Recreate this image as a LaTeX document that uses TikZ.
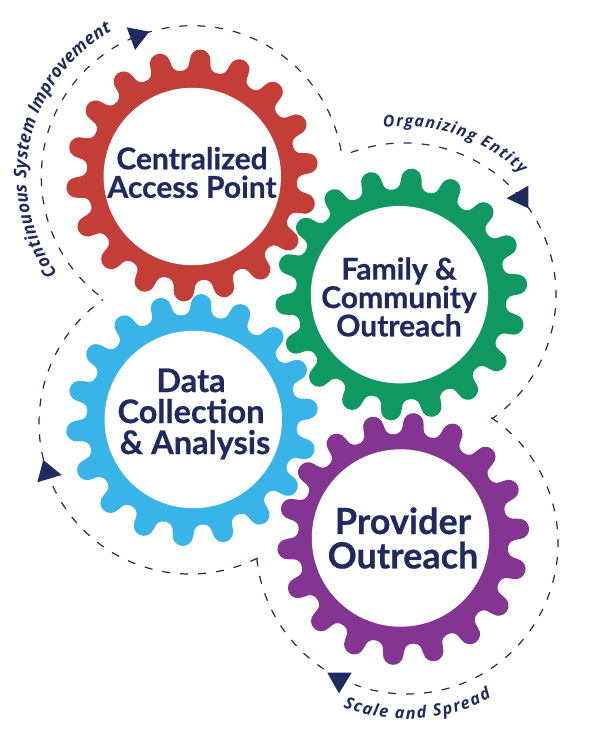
\documentclass[tikz,border=0pt]{standalone}
\usepackage{fontspec}
\setmainfont{Lato}[BoldFeatures={FakeBold=0.6}]
\newfontfamily\labfont{Open Sans}
\usetikzlibrary{decorations.text}
\definecolor{navy}{HTML}{1F2A5E}
\definecolor{gearred}{HTML}{C33E36}
\definecolor{geargreen}{HTML}{0F9960}
\definecolor{gearblue}{HTML}{39B4E8}
\definecolor{gearpurple}{HTML}{843592}
\tikzset{
  hole/.style={circle,fill=white,inner sep=0pt,minimum size=177.4pt},
  flow/.style={navy,line width=1.2pt,dash pattern=on 8pt off 10pt},
  tip/.style={fill=navy},
  gtext/.style={navy,font=\bfseries,align=center,inner sep=0pt},
  curved/.style={decorate,decoration={text along path,text align={fit to path},text={#1}}}
}
% name, gear x, gear y, phase, colour, hole x, hole y
\newcommand{\geargear}[7]{%
  \begin{scope}[shift={(#2,#3)}]
    \fill[#5] (0,0) circle (105);
    \foreach \k in {0,...,17}{
      \fill[#5,rotate=#4+20*\k-90] (-18.2,103.4) .. controls (-14.8,104) and (-11.2,106.5) .. (-10.8,110.5)
        .. controls (-10.6,112.8) and (-10.2,113.5) .. (-10.2,116)
        .. controls (-10.2,121.7) and (-5.6,126.3) .. (0,126.3)
        .. controls (5.6,126.3) and (10.2,121.7) .. (10.2,116)
        .. controls (10.2,113.5) and (10.6,112.8) .. (10.8,110.5)
        .. controls (11.2,106.5) and (14.8,104) .. (18.2,103.4) -- (0,90) -- cycle;
    }
  \end{scope}
  \node[hole] (#1) at (#6,#7) {};
}
\begin{document}
\begin{tikzpicture}[x=1pt,y=1pt]
\useasboundingbox (0,0) rectangle (601,743);
\geargear{red}{192}{567.5}{6}{gearred}{192.3}{566.5}
\geargear{green}{401.3}{448.5}{5}{geargreen}{399.5}{448.3}
\geargear{blue}{192}{323}{5.5}{gearblue}{193.3}{323.5}
\geargear{purple}{403.3}{204}{5}{gearpurple}{400.5}{205}
\node[gtext,font=\bfseries\fontsize{30}{28.5}\selectfont] (redt) at (192,570.5) {Centralized\\Access Point};
\node[gtext,font=\bfseries\fontsize{30}{28.4}\selectfont] (greent) at (399,446) {Family \&\\Community\\Outreach};
\node[gtext,font=\bfseries\fontsize{32.5}{31}\selectfont] (bluet) at (191,329) {Data\\Collection\\\hspace*{8pt}\& Analysis};
\node[gtext,font=\bfseries\fontsize{36}{34.4}\selectfont] (purplet) at (403,205) {Provider\\Outreach};
\coordinate (rc) at (192.3,566.3);
\coordinate (gc) at (404,448);
\coordinate (bc) at (190,320);
\coordinate (pc) at (407,200);
\draw[flow] ([shift={(231.5:151)}]rc) arc[start angle=231.5,end angle=7.6,radius=151];
\draw[flow] ([shift={(110.5:152)}]gc) arc[start angle=110.5,end angle=-54.5,radius=152];
\draw[flow] ([shift={(296.6:151)}]bc) arc[start angle=296.6,end angle=125.2,radius=151];
\draw[flow] ([shift={(56.1:151)}]pc) arc[start angle=56.1,end angle=-110.3,radius=151];
\draw[flow] ([shift={(185.8:151)}]pc) arc[start angle=185.8,end angle=238,radius=151];
\fill[tip] (126.7,715.7) -- (149.3,711.3) -- (135,693) -- cycle;
\fill[tip] (528.3,557.3) -- (528.3,534.7) -- (506.7,544.7) -- cycle;
\fill[tip] (43.3,283) -- (61.7,268) -- (37.3,260.7) -- cycle;
\fill[tip] (327.3,70.3) -- (351.7,70.3) -- (339,49.7) -- cycle;
\path[curved={|\labfont\bfseries\itshape\fontsize{17.5}{17.5}\selectfont\color{navy}|Continuous System Improvement}] ([shift={(215.6:166)}]rc) arc[start angle=215.6,end angle=118.9,radius=166];
\path[curved={|\labfont\bfseries\itshape\fontsize{16}{16}\selectfont\color{navy}|Organizing Entity}] ([shift={(97:168.5)}]gc) arc[start angle=97,end angle=46,radius=168.5];
\path[curved={|\labfont\bfseries\itshape\fontsize{16.5}{16.5}\selectfont\color{navy}|Scale and Spread}] ([shift={(248.7:176)}]pc) arc[start angle=248.7,end angle=298.7,radius=176];
\end{tikzpicture}
\end{document}
